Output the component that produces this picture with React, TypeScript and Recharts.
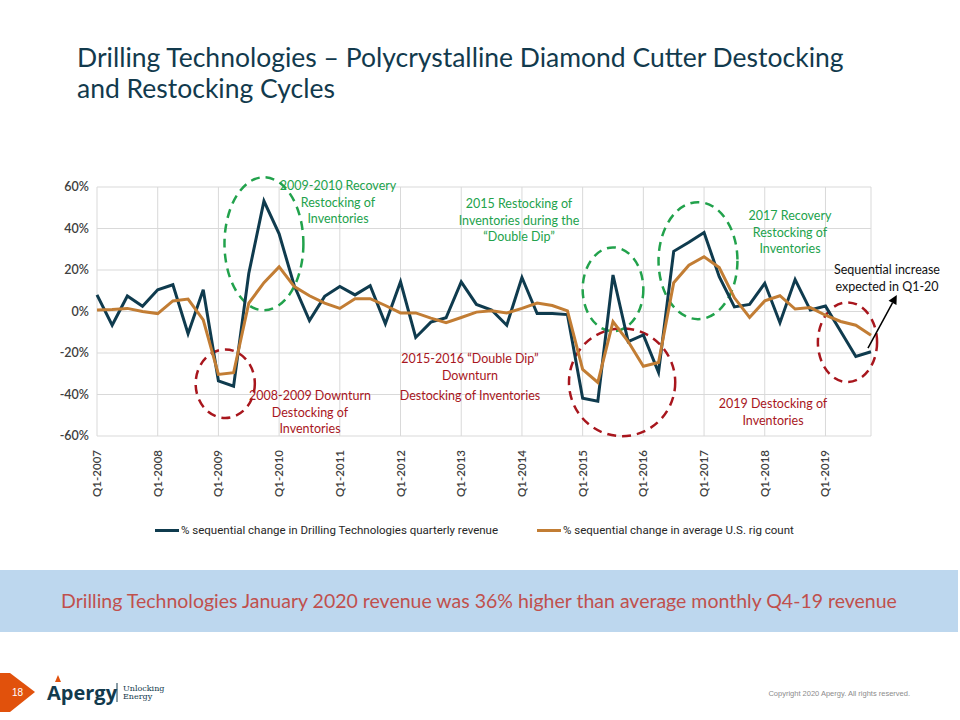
import React from "react";
import {
  LineChart,
  Line,
  XAxis,
  YAxis,
  CartesianGrid,
  ReferenceArea,
  ReferenceLine,
  Legend,
} from "recharts";

const years = [2007, 2008, 2009, 2010, 2011, 2012, 2013, 2014, 2015, 2016, 2017, 2018, 2019];
const quarters = years.flatMap((y) => ["Q1", "Q2", "Q3", "Q4"].map((q) => `${q}-${y}`));

// % sequential change in Drilling Technologies quarterly revenue
const revenueChange = [
  8.0, -6.6, 7.5, 2.5, 10.5, 12.9, -10.7, 10.5, -33.4, -36.0, 18.3, 53.2, 37.4,
  12.4, -4.4, 7.3, 12.1, 8.0, 12.4, -5.9, 14.3, -12.5, -5.1, -3.0, 14.3, 3.4,
  0.7, -6.6, 16.4, -1.0, -1.0, -1.5, -41.8, -43.2, 17.6, -14.5, -11.3, -29.3, 29.0,
  33.4, 38.1, 16.8, 2.2, 3.4, 13.6, -5.4, 15.4, 0.7, 2.6, -9.5, -21.7, -19.4,
];

// % sequential change in average U.S. rig count
const rigCountChange = [
  0.7, 1.0, 1.5, 0.0, -1.0, 5.1, 6.0, -4.0, -30.3, -29.5, 4.0, 13.9, 21.5,
  12.0, 7.6, 4.0, 1.5, 6.2, 6.2, 2.9, -0.7, -0.7, -3.2, -5.4, -2.9, -0.3,
  0.3, -0.7, 1.5, 4.1, 2.9, 0.3, -27.9, -34.2, -4.9, -14.5, -26.4, -24.6, 13.9,
  22.3, 26.4, 21.2, 6.6, -2.9, 5.1, 7.6, 1.2, 1.9, -1.8, -4.8, -6.6, -11.4,
];

const yTicks = [-60, -40, -20, 0, 20, 40, 60];
const xTicks = [0, 4, 8, 12, 16, 20, 24, 28, 32, 36, 40, 44, 48];

const data = quarters.map((q, i) => ({
  idx: i,
  quarter: q,
  revenue: revenueChange[i],
  rigs: rigCountChange[i],
}));

const NAVY = "#0f3b4e";
const ORANGE = "#c27d34";
const GREEN = "#22a24c";
const RED = "#a8161d";
const FONT = "Lato, 'Open Sans', sans-serif";

// dashed rings drawn around cycles, in data units
const rings = [
  { x1: 8.4, x2: 13.6, y1: 0.6, y2: 64.7, color: GREEN },
  { x1: 6.5, x2: 10.4, y1: -51.3, y2: -18.3, color: RED },
  { x1: 32.0, x2: 36.0, y1: -9.5, y2: 30.9, color: GREEN },
  { x1: 31.1, x2: 38.1, y1: -60.1, y2: -8.1, color: RED },
  { x1: 37.0, x2: 42.2, y1: -3.7, y2: 52.7, color: GREEN },
  { x1: 47.5, x2: 51.4, y1: -34.0, y2: 4.4, color: RED },
];

const notes = [
  { x: 338, y: 190, lines: ["2009-2010 Recovery", "Restocking of", "Inventories"], color: GREEN },
  { x: 519, y: 208, lines: ["2015 Restocking of", "Inventories during the", "“Double Dip”"], color: GREEN },
  { x: 790, y: 220, lines: ["2017 Recovery", "Restocking of", "Inventories"], color: GREEN },
  { x: 887, y: 274, lines: ["Sequential increase", "expected in Q1-20"], color: "#111111" },
  { x: 310, y: 400, lines: ["2008-2009 Downturn", "Destocking of", "Inventories"], color: RED },
  { x: 470, y: 363, lines: ["2015-2016 “Double Dip”", "Downturn"], color: RED },
  { x: 470, y: 400, lines: ["Destocking of Inventories"], color: RED },
  { x: 773, y: 408, lines: ["2019 Destocking of", "Inventories"], color: RED },
];

const RingShape = (color: string) => (props: any) => {
  const { x, y, width, height } = props;
  return (
    <ellipse
      cx={x + width / 2}
      cy={y + height / 2}
      rx={Math.abs(width) / 2}
      ry={Math.abs(height) / 2}
      fill="none"
      stroke={color}
      strokeWidth={2.5}
      strokeDasharray="9 6"
    />
  );
};

const ArrowShape = (props: any) => {
  const { x1, y1, x2, y2 } = props;
  const ang = Math.atan2(y2 - y1, x2 - x1);
  const len = 9;
  const w = 4.5;
  const bx = x2 - len * Math.cos(ang);
  const by = y2 - len * Math.sin(ang);
  const px = -Math.sin(ang) * w;
  const py = Math.cos(ang) * w;
  return (
    <g>
      <line x1={x1} y1={y1} x2={bx} y2={by} stroke="#000" strokeWidth={1.5} />
      <polygon points={`${x2},${y2} ${bx + px},${by + py} ${bx - px},${by - py}`} fill="#000" />
    </g>
  );
};

const XTick = (props: any) => {
  const { x, y, payload } = props;
  return (
    <text
      x={x}
      y={y}
      transform={`rotate(-90, ${x}, ${y})`}
      dx={-6}
      dy={4}
      textAnchor="end"
      fontSize={11.5}
      fontFamily={FONT}
      fontWeight={600}
      fill="#404040"
    >
      {quarters[payload.value]}
    </text>
  );
};

const LegendContent = () => (
  <div style={{ position: "relative", width: 960, height: 24 }}>
    {[
      { left: 155, color: NAVY, label: "% sequential change in Drilling Technologies quarterly revenue" },
      { left: 537, color: ORANGE, label: "% sequential change in average U.S. rig count" },
    ].map((it) => (
      <div
        key={it.label}
        style={{ position: "absolute", left: it.left, top: 4, display: "flex", alignItems: "center" }}
      >
        <div style={{ width: 24, height: 3, background: it.color, marginRight: 2 }} />
        <span
          style={{
            fontFamily: "Roboto, sans-serif",
            fontSize: 11.5,
            color: "#262626",
            whiteSpace: "nowrap",
          }}
        >
          {it.label}
        </span>
      </div>
    ))}
  </div>
);

export default function App() {
  return (
    <div
      style={{
        position: "absolute",
        left: 0,
        top: 0,
        width: 960,
        height: 720,
        background: "#fff",
        overflow: "hidden",
        fontFamily: FONT,
      }}
    >
      <div
        style={{
          position: "absolute",
          left: 77,
          top: 42,
          fontSize: 26.5,
          lineHeight: "31px",
          color: "#123a4d",
          width: 880,
        }}
      >
        Drilling Technologies – Polycrystalline Diamond Cutter Destocking
        <br />
        and Restocking Cycles
      </div>

      <div style={{ position: "absolute", left: 0, top: 0 }}>
        <LineChart
          width={960}
          height={560}
          data={data}
          margin={{ top: 187, right: 89, left: 47, bottom: 40 }}
        >
          <CartesianGrid stroke="#d9d9d9" strokeWidth={1} />
          <XAxis
            dataKey="idx"
            type="number"
            domain={[0, 51]}
            ticks={xTicks}
            interval={0}
            tick={<XTick />}
            tickLine={false}
            axisLine={false}
            height={60}
          />
          <YAxis
            domain={[-60, 60]}
            ticks={yTicks}
            tickFormatter={(v: number) => `${v}%`}
            tick={{ fontSize: 12.5, fill: "#404040", fontFamily: FONT, fontWeight: 600 }}
            tickLine={false}
            axisLine={false}
            width={50}
          />
          <Legend
            content={<LegendContent />}
            wrapperStyle={{ position: "absolute", left: 0, top: 519, width: 960 }}
          />
          <Line
            dataKey="revenue"
            name="% sequential change in Drilling Technologies quarterly revenue"
            stroke={NAVY}
            strokeWidth={3}
            dot={false}
            type="linear"
            isAnimationActive={false}
          />
          <Line
            dataKey="rigs"
            name="% sequential change in average U.S. rig count"
            stroke={ORANGE}
            strokeWidth={3}
            dot={false}
            type="linear"
            isAnimationActive={false}
          />
          {rings.map((r, i) => (
            <ReferenceArea
              key={i}
              x1={r.x1}
              x2={r.x2}
              y1={r.y1}
              y2={r.y2}
              ifOverflow="visible"
              shape={RingShape(r.color)}
            />
          ))}
          <ReferenceLine
            segment={[
              { x: 50.8, y: -17.6 },
              { x: 52.7, y: 8.0 },
            ]}
            ifOverflow="visible"
            shape={ArrowShape}
          />
        </LineChart>
      </div>

      <svg
        width={960}
        height={560}
        style={{ position: "absolute", left: 0, top: 0, pointerEvents: "none" }}
      >
        {notes.map((n, i) => (
          <text
            key={i}
            x={n.x}
            y={n.y}
            textAnchor="middle"
            fontFamily={FONT}
            fontSize={12.5}
            fill={n.color}
          >
            {n.lines.map((l, j) => (
              <tspan key={j} x={n.x} dy={j === 0 ? 0 : 16.5}>
                {l}
              </tspan>
            ))}
          </text>
        ))}
      </svg>

      <div
        style={{
          position: "absolute",
          left: 0,
          top: 570,
          width: 958,
          height: 62,
          background: "#bdd7ee",
          color: "#c0504d",
          fontSize: 19.5,
          lineHeight: "62px",
          textAlign: "center",
        }}
      >
        Drilling Technologies January 2020 revenue was 36% higher than average monthly Q4-19 revenue
      </div>

      <svg width={960} height={60} style={{ position: "absolute", left: 0, top: 660 }}>
        <polygon points="0,13 10,13 35,32 10,52 0,52" fill="#e1510c" />
        <text x={12} y={36} fontSize={10} fill="#fff" fontFamily="'Liberation Sans', Arial, sans-serif">
          18
        </text>
        <path d="M55,22 L58,15 L61,22 Z" fill="#e1510c" />
        <text x={47} y={40} fontSize={20} fontWeight={700} fill="#123a4d" fontFamily="'Open Sans', sans-serif">
          Apergy
        </text>
        <line x1={117} y1={23} x2={117} y2={42} stroke="#123a4d" strokeWidth={1} />
        <text x={123} y={31} fontSize={8} fill="#123a4d" fontFamily="'DejaVu Serif', serif">
          Unlocking
        </text>
        <text x={123} y={39} fontSize={8} fill="#123a4d" fontFamily="'DejaVu Serif', serif">
          Energy
        </text>
        <text
          x={910}
          y={36}
          textAnchor="end"
          fontSize={7.5}
          fill="#8c8c8c"
          fontFamily="'Liberation Sans', Arial, sans-serif"
        >
          Copyright  2020 Apergy. All rights reserved.
        </text>
      </svg>
    </div>
  );
}
